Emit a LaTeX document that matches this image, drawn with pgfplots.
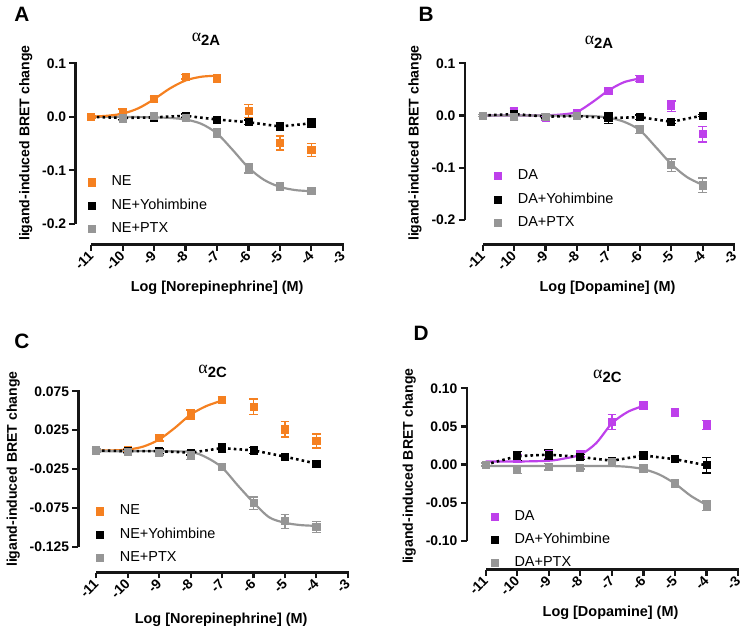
\documentclass[border=0pt]{standalone}
\usepackage{fontspec}
\setmainfont{Liberation Sans}
\newfontfamily\grk{Liberation Serif}
\usepackage{pgfplots}
\pgfplotsset{compat=1.18}
\definecolor{neor}{RGB}{245,128,32}
\definecolor{dapu}{RGB}{190,64,235}
\definecolor{ptx}{RGB}{150,150,150}
\definecolor{axc}{RGB}{22,22,22}
\pgfplotsset{
  prism/.style={
    scale only axis, clip=false,
    axis lines*=left, axis line style={draw=none},
    xmax=-3, xtick={-11,-10,-9,-8,-7,-6,-5,-4,-3},
    xticklabels={-11,-10,-9,-8,-7,-6,-5,-4,-3},
    tick align=outside, major tick length=3pt,
    every tick/.style={line width=1.1pt, axc},
    xticklabel style={rotate=45, anchor=east, font=\bfseries\fontsize{7}{8}\selectfont, inner sep=1pt, yshift=-1pt},
    yticklabel style={font=\bfseries\fontsize{7}{8}\selectfont, inner sep=1.5pt},
    xlabel style={at={(ticklabel cs:0.53)}, font=\bfseries\fontsize{7.3}{8}\selectfont},
    ylabel style={at={(ticklabel cs:0.56)}, font=\bfseries\fontsize{7.1}{8}\selectfont},
    title style={font=\fontsize{9}{10}\selectfont, anchor=center},
    legend style={draw=none, fill=none, anchor=north west, font=\fontsize{7.3}{8}\selectfont, row sep=1.1pt},
    legend cell align=left,
    legend image code/.code={\path[draw=none, fill=none] (-3pt,0) rectangle (8pt,0.1pt);
      \draw[only marks, mark=square*, mark size=1.8pt] plot coordinates {(0pt,0pt)};},
    ylabel={ligand-induced BRET change},
  },
  errpts/.style={only marks, mark=square*, mark size=1.8pt, forget plot,
    error bars/y dir=both, error bars/y explicit,
    error bars/error bar style={line width=0.7pt},
    error bars/error mark options={rotate=90, line width=0.7pt, mark size=2.2pt}},
  fitline/.style={smooth, no marks, line width=1.1pt, forget plot},
  dotline/.style={no marks, line width=1.3pt, dash pattern=on 1.3pt off 1.6pt, black, forget plot},
}
\newcommand{\atwo}[1]{{\grk α}\textsubscript{\bfseries\fontsize{7.5}{8}\selectfont #1}}
\begin{document}
\begin{tikzpicture}
\path (0pt,0pt) rectangle (375pt,317.5pt);
\node[font=\bfseries\fontsize{10.5}{12}\selectfont] at (7.5pt,310pt) {A};
\node[font=\bfseries\fontsize{10.5}{12}\selectfont] at (211.5pt,310pt) {B};
\node[font=\bfseries\fontsize{10.5}{12}\selectfont] at (7.5pt,145pt) {C};
\node[font=\bfseries\fontsize{10.5}{12}\selectfont] at (209pt,149pt) {D};

% ---------------- A ----------------
\begin{axis}[prism, at={(34.5pt,194pt)}, anchor=south west,
  width=135pt, height=91.5pt,
  xmin=-11.5, ymin=-0.239, ymax=0.1,
  ytick={-0.2,-0.1,0,0.1}, yticklabels={-0.2,-0.1,0.0,0.1},
  xlabel={Log [Norepinephrine] (M)},
  title={\atwo{2A}}, title style={at={(0.49,1)}, yshift=6pt},
  legend style={at={(0.015,0.425)}},
]
\addlegendimage{neor}
\addlegendentry{NE}
\addlegendimage{black}
\addlegendentry{NE+Yohimbine}
\addlegendimage{ptx}
\addlegendentry{NE+PTX}
\addplot[fitline, ptx] coordinates {(-11,0.000) (-10,0.000) (-9,-0.001) (-8.5,-0.002) (-8,-0.005) (-7.5,-0.013) (-7,-0.031) (-6.5,-0.062) (-6,-0.095) (-5.5,-0.118) (-5,-0.131) (-4.5,-0.137) (-4,-0.139)};
\addplot[fitline, neor] coordinates {(-11,0.0005) (-10.5,0.002) (-10,0.006) (-9.5,0.016) (-9,0.033) (-8.5,0.053) (-8,0.068) (-7.5,0.075) (-7,0.077)};
\addplot[dotline] coordinates {(-11,0) (-10,-0.002) (-9,-0.001) (-8,0.002) (-7,-0.005) (-6,-0.010) (-5,-0.018) (-4,-0.012)};
\addplot[neor, errpts] coordinates {(-11,0) +- (0,0.002) (-10,0.010) +- (0,0.005) (-9,0.033) +- (0,0.004) (-8,0.075) +- (0,0.004) (-7,0.072) +- (0,0.003) (-6,0.011) +- (0,0.012) (-5,-0.049) +- (0,0.013) (-4,-0.062) +- (0,0.012)};
\addplot[black, errpts] coordinates {(-10,-0.002) +- (0,0.003) (-9,-0.001) +- (0,0.003) (-8,0.002) +- (0,0.003) (-7,-0.005) +- (0,0.003) (-6,-0.010) +- (0,0.004) (-5,-0.018) +- (0,0.007) (-4,-0.012) +- (0,0.008)};
\addplot[ptx, errpts] coordinates {(-10,-0.003) +- (0,0.004) (-9,0.001) +- (0,0.003) (-8,-0.002) +- (0,0.003) (-7,-0.031) +- (0,0.008) (-6,-0.096) +- (0,0.009) (-5,-0.130) +- (0,0.007) (-4,-0.139) +- (0,0.003)};
\end{axis}

% ---------------- B ----------------
\begin{axis}[prism, at={(231pt,194pt)}, anchor=south west,
  width=136pt, height=91.5pt,
  xmin=-11.57, ymin=-0.2475, ymax=0.1,
  ytick={-0.2,-0.1,0,0.1}, yticklabels={-0.2,-0.1,0.0,0.1},
  xlabel={Log [Dopamine] (M)},
  title={\atwo{2A}}, title style={at={(0.5,1)}, yshift=4.5pt},
  legend style={at={(0.078,0.459)}},
]
\addlegendimage{dapu}
\addlegendentry{DA}
\addlegendimage{black}
\addlegendentry{DA+Yohimbine}
\addlegendimage{ptx}
\addlegendentry{DA+PTX}
\addplot[fitline, dapu] coordinates {(-11,0) (-10,0) (-9,0.0005) (-8.5,0.002) (-8,0.007) (-7.5,0.026) (-7,0.048) (-6.5,0.064) (-6,0.071)};
\addplot[fitline, ptx] coordinates {(-11,0) (-9,0) (-8,-0.0005) (-7.5,-0.001) (-7,-0.004) (-6.5,-0.012) (-6,-0.028) (-5.5,-0.060) (-5,-0.093) (-4.5,-0.118) (-4,-0.133)};
\addplot[dotline] coordinates {(-11,0) (-10,0.003) (-9,-0.002) (-8,-0.001) (-7,-0.005) (-6,-0.003) (-5,-0.012) (-4,0)};
\addplot[dapu, errpts] coordinates {(-11,0) +- (0,0.002) (-10,0.009) +- (0,0.007) (-9,-0.005) +- (0,0.004) (-8,0.004) +- (0,0.003) (-7,0.048) +- (0,0.004) (-6,0.071) +- (0,0.006) (-5,0.018) +- (0,0.010) (-4,-0.036) +- (0,0.015)};
\addplot[black, errpts] coordinates {(-11,0) +- (0,0.002) (-10,0.003) +- (0,0.010) (-9,-0.002) +- (0,0.003) (-8,-0.001) +- (0,0.002) (-7,-0.005) +- (0,0.010) (-6,-0.003) +- (0,0.004) (-5,-0.012) +- (0,0.003) (-4,0) +- (0,0.002)};
\addplot[ptx, errpts] coordinates {(-11,0) +- (0,0.002) (-10,-0.002) +- (0,0.008) (-9,-0.002) +- (0,0.005) (-8,-0.001) +- (0,0.004) (-6,-0.027) +- (0,0.007) (-5,-0.095) +- (0,0.012) (-4,-0.134) +- (0,0.014)};
\end{axis}

% ---------------- C ----------------
\begin{axis}[prism, at={(36pt,28.5pt)}, anchor=south west,
  width=136pt, height=91.5pt,
  xmin=-11.57, ymin=-0.158, ymax=0.075,
  ytick={-0.125,-0.075,-0.025,0.025,0.075}, yticklabels={-0.125,-0.075,-0.025,0.025,0.075},
  ylabel style={at={(ticklabel cs:0.57)}},
  xlabel={Log [Norepinephrine] (M)}, xlabel style={yshift=-2pt},
  title={\atwo{2C}}, title style={at={(0.5,1)}, yshift=4pt},
  legend style={at={(0.035,0.419)}},
]
\addlegendimage{neor}
\addlegendentry{NE}
\addlegendimage{black}
\addlegendentry{NE+Yohimbine}
\addlegendimage{ptx}
\addlegendentry{NE+PTX}
\addplot[fitline, neor] coordinates {(-11,-0.001) (-10.5,-0.001) (-10,0.000) (-9.5,0.004) (-9,0.013) (-8.5,0.028) (-8,0.045) (-7.5,0.056) (-7,0.063)};
\addplot[fitline, ptx] coordinates {(-11,-0.002) (-10,-0.002) (-9,-0.002) (-8,-0.003) (-7.5,-0.010) (-7,-0.023) (-6.5,-0.046) (-6,-0.068) (-5.5,-0.087) (-5,-0.094) (-4.5,-0.097) (-4,-0.098)};
\addplot[dotline] coordinates {(-11,-0.001) (-10,-0.002) (-9,-0.002) (-8,-0.004) (-7,0.002) (-6,-0.001) (-5,-0.009) (-4,-0.018)};
\addplot[neor, errpts] coordinates {(-11,-0.001) +- (0,0.002) (-10,-0.001) +- (0,0.002) (-9,0.015) +- (0,0.004) (-8,0.045) +- (0,0.006) (-7,0.064) +- (0,0.004) (-6,0.055) +- (0,0.010) (-5,0.026) +- (0,0.010) (-4,0.011) +- (0,0.009)};
\addplot[black, errpts] coordinates {(-11,-0.001) +- (0,0.002) (-10,-0.002) +- (0,0.002) (-9,-0.002) +- (0,0.003) (-8,-0.004) +- (0,0.003) (-7,0.002) +- (0,0.005) (-6,-0.001) +- (0,0.004) (-5,-0.009) +- (0,0.002) (-4,-0.018) +- (0,0.004)};
\addplot[ptx, errpts] coordinates {(-11,-0.001) +- (0,0.002) (-10,-0.003) +- (0,0.002) (-9,-0.004) +- (0,0.003) (-8,-0.007) +- (0,0.006) (-7,-0.022) +- (0,0.004) (-6,-0.069) +- (0,0.008) (-5,-0.092) +- (0,0.009) (-4,-0.0995) +- (0,0.007)};
\end{axis}

% ---------------- D ----------------
\begin{axis}[prism, at={(232pt,30pt)}, anchor=south west,
  width=137pt, height=91.5pt,
  xmin=-11.6, ymin=-0.1377, ymax=0.10,
  ytick={-0.1,-0.05,0,0.05,0.1}, yticklabels={-0.10,-0.05,0.00,0.05,0.10},
  ylabel style={at={(ticklabel cs:0.57)}},
  xlabel={Log [Dopamine] (M)},
  title={\atwo{2C}}, title style={at={(0.52,1)}, yshift=0pt},
  legend style={at={(0.058,0.374)}},
]
\addlegendimage{dapu}
\addlegendentry{DA}
\addlegendimage{black}
\addlegendentry{DA+Yohimbine}
\addlegendimage{ptx}
\addlegendentry{DA+PTX}
\addplot[fitline, dapu] coordinates {(-11,0.004) (-10,0.004) (-9,0.005) (-8.5,0.008) (-8,0.013) (-7.5,0.028) (-7,0.054) (-6.5,0.069) (-6,0.077)};
\addplot[fitline, ptx] coordinates {(-11,-0.002) (-10,-0.002) (-9,-0.002) (-8,-0.002) (-7,-0.002) (-6.5,-0.003) (-6,-0.006) (-5.5,-0.013) (-5,-0.025) (-4.5,-0.041) (-4,-0.053)};
\addplot[dotline] coordinates {(-11,0) (-10,0.011) (-9,0.013) (-8,0.010) (-7,0.005) (-6,0.012) (-5,0.007) (-4,-0.001)};
\addplot[dapu, errpts] coordinates {(-10,0.008) +- (0,0.005) (-9,0.014) +- (0,0.006) (-8,0.014) +- (0,0.004) (-7,0.056) +- (0,0.010) (-6,0.077) +- (0,0.005) (-5,0.068) +- (0,0.005) (-4,0.052) +- (0,0.006)};
\addplot[black, errpts] coordinates {(-11,0) +- (0,0.002) (-10,0.011) +- (0,0.006) (-9,0.013) +- (0,0.006) (-8,0.010) +- (0,0.003) (-7,0.005) +- (0,0.002) (-6,0.012) +- (0,0.003) (-5,0.007) +- (0,0.003) (-4,-0.001) +- (0,0.010)};
\addplot[ptx, errpts] coordinates {(-11,0) +- (0,0.002) (-10,-0.007) +- (0,0.005) (-9,-0.003) +- (0,0.004) (-8,-0.004) +- (0,0.002) (-7,0.004) +- (0,0.003) (-6,-0.005) +- (0,0.002) (-5,-0.025) +- (0,0.005) (-4,-0.054) +- (0,0.006)};
\end{axis}

% axis lines (Prism style: detached x and y axes)
\fill[axc] (33.9pt,204.5pt) rectangle (35.1pt,286pt);
\fill[axc] (42.44pt,193.4pt) rectangle (170pt,194.6pt);
\fill[axc] (230.4pt,206.5pt) rectangle (231.6pt,286pt);
\fill[axc] (240.05pt,193.4pt) rectangle (367.5pt,194.6pt);
\fill[axc] (35.4pt,41.5pt) rectangle (36.6pt,120.5pt);
\fill[axc] (45.05pt,27.9pt) rectangle (172.5pt,29.1pt);
\fill[axc] (231.4pt,44.5pt) rectangle (232.6pt,122pt);
\fill[axc] (241.56pt,29.4pt) rectangle (369.5pt,30.6pt);
\end{tikzpicture}
\end{document}
